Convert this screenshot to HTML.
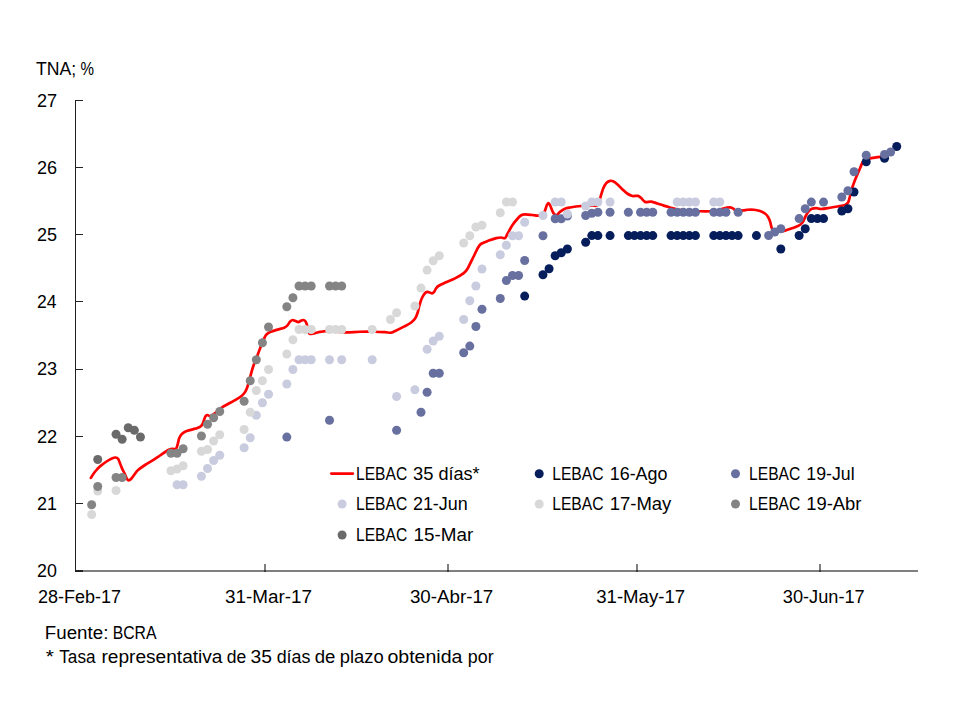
<!DOCTYPE html>
<html lang="es"><head><meta charset="utf-8"><title>LEBAC - TNA; %</title>
<style>
html,body{margin:0;padding:0;background:#fff;}
body{width:960px;height:720px;overflow:hidden;}
svg{display:block;}
text{font-family:"Liberation Sans",sans-serif;font-size:17.5px;fill:#000;}
</style></head><body>
<svg width="960" height="720" viewBox="0 0 960 720">
<rect width="960" height="720" fill="#fff"/>
<g shape-rendering="crispEdges">
<rect x="76" y="570" width="842" height="2" fill="#000" fill-opacity="0.5"/>
<rect x="264" y="564" width="2" height="8" fill="#000" fill-opacity="0.5"/>
<rect x="447" y="564" width="2" height="8" fill="#000" fill-opacity="0.5"/>
<rect x="636" y="564" width="2" height="8" fill="#000" fill-opacity="0.5"/>
<rect x="819" y="564" width="2" height="8" fill="#000" fill-opacity="0.5"/>
<rect x="75" y="100" width="1" height="472" fill="#222"/>
<rect x="75" y="100" width="8" height="1" fill="#222"/>
<rect x="75" y="167" width="8" height="1" fill="#222"/>
<rect x="75" y="234" width="8" height="1" fill="#222"/>
<rect x="75" y="301" width="8" height="1" fill="#222"/>
<rect x="75" y="369" width="8" height="1" fill="#222"/>
<rect x="75" y="436" width="8" height="1" fill="#222"/>
<rect x="75" y="503" width="8" height="1" fill="#222"/>
<rect x="75" y="570" width="8" height="2" fill="#222"/>
</g>
<path d="M90.90 477.80C91.48 476.92 93.30 474.00 94.40 472.50C95.50 471.00 96.47 469.90 97.50 468.80C98.53 467.70 99.03 467.16 100.60 465.90C102.17 464.64 105.02 462.50 106.90 461.25C108.78 460.00 110.45 459.02 111.90 458.40C113.35 457.77 114.57 457.44 115.60 457.50C116.63 457.56 117.42 457.92 118.10 458.75C118.78 459.58 119.07 460.94 119.70 462.50C120.33 464.06 121.02 466.12 121.90 468.10C122.78 470.08 124.17 472.62 125.00 474.40C125.83 476.17 126.28 477.77 126.90 478.75C127.53 479.73 128.03 480.30 128.75 480.30C129.47 480.30 130.21 479.84 131.25 478.75C132.29 477.66 133.86 475.21 135.00 473.75C136.14 472.29 136.43 471.46 138.10 470.00C139.77 468.54 142.18 466.85 145.00 465.00C147.82 463.15 152.50 460.48 155.00 458.90C157.50 457.32 157.78 456.98 160.00 455.50C162.22 454.02 166.22 451.12 168.30 450.00C170.38 448.88 171.25 448.92 172.50 448.75C173.75 448.58 174.97 449.62 175.80 449.00C176.63 448.38 176.93 446.78 177.50 445.00C178.07 443.22 178.50 440.10 179.20 438.30C179.90 436.50 180.73 435.30 181.70 434.20C182.67 433.10 183.33 432.47 185.00 431.70C186.67 430.93 189.62 430.23 191.70 429.60C193.78 428.97 195.98 428.46 197.50 427.90C199.02 427.34 199.90 427.02 200.80 426.25C201.70 425.48 202.27 424.62 202.90 423.30C203.53 421.98 204.12 419.55 204.60 418.30C205.08 417.05 205.32 416.35 205.80 415.80C206.28 415.25 206.90 414.97 207.50 415.00C208.10 415.03 208.65 415.97 209.40 416.00C210.15 416.03 210.90 415.80 212.00 415.20C213.10 414.60 214.38 413.68 216.00 412.40C217.62 411.12 219.23 409.15 221.70 407.50C224.17 405.85 227.75 404.23 230.80 402.50C233.85 400.77 237.80 398.60 240.00 397.10C242.20 395.60 242.87 394.93 244.00 393.50C245.13 392.07 245.88 390.83 246.80 388.50C247.72 386.17 248.47 383.08 249.50 379.50C250.53 375.92 251.60 371.22 253.00 367.00C254.40 362.78 256.67 357.45 257.90 354.20C259.13 350.95 259.63 349.50 260.40 347.50C261.17 345.50 261.80 343.87 262.50 342.20C263.20 340.53 263.90 338.83 264.60 337.50C265.30 336.17 265.67 335.17 266.70 334.20C267.73 333.23 269.00 332.47 270.80 331.70C272.60 330.93 275.27 330.26 277.50 329.60C279.73 328.94 282.53 328.45 284.20 327.75C285.87 327.05 286.53 326.41 287.50 325.40C288.47 324.39 289.17 322.60 290.00 321.70C290.83 320.80 291.67 320.15 292.50 320.00C293.33 319.85 294.03 320.45 295.00 320.80C295.97 321.15 297.33 322.10 298.30 322.10C299.27 322.10 299.97 321.15 300.80 320.80C301.63 320.45 302.53 319.93 303.30 320.00C304.07 320.07 304.83 320.55 305.40 321.25C305.97 321.95 306.27 322.82 306.70 324.20C307.13 325.57 307.58 327.98 308.00 329.50C308.42 331.02 308.58 332.55 309.20 333.30C309.82 334.05 310.73 334.00 311.70 334.00C312.67 334.00 313.62 333.65 315.00 333.30C316.38 332.95 317.50 332.30 320.00 331.90C322.50 331.50 325.83 330.83 330.00 330.90C334.17 330.97 340.00 332.16 345.00 332.30C350.00 332.44 355.00 331.84 360.00 331.75C365.00 331.66 370.83 331.68 375.00 331.75C379.17 331.82 382.37 332.04 385.00 332.20C387.63 332.36 389.18 332.87 390.80 332.70C392.42 332.53 392.43 332.25 394.70 331.20C396.97 330.15 401.65 327.85 404.40 326.40C407.15 324.95 409.42 323.80 411.20 322.50C412.98 321.20 414.03 320.22 415.10 318.60C416.17 316.98 416.95 314.75 417.60 312.80C418.25 310.85 418.37 309.17 419.00 306.90C419.63 304.63 420.50 301.38 421.40 299.20C422.30 297.02 423.42 295.02 424.40 293.80C425.38 292.58 426.42 292.12 427.30 291.90C428.18 291.68 428.90 292.27 429.70 292.50C430.50 292.73 431.37 293.40 432.10 293.30C432.83 293.20 433.45 292.70 434.10 291.90C434.75 291.10 435.28 289.48 436.00 288.50C436.72 287.52 436.85 286.98 438.40 286.00C439.95 285.02 442.53 283.87 445.30 282.60C448.07 281.33 451.93 279.98 455.00 278.40C458.07 276.82 461.67 274.71 463.75 273.10C465.83 271.49 465.83 271.56 467.50 268.75C469.17 265.94 471.98 259.79 473.75 256.25C475.52 252.71 476.85 249.58 478.10 247.50C479.35 245.42 479.48 244.90 481.25 243.75C483.02 242.60 486.25 241.54 488.75 240.60C491.25 239.66 494.17 238.62 496.25 238.10C498.33 237.58 499.79 237.50 501.25 237.50C502.71 237.50 503.96 238.72 505.00 238.10C506.04 237.47 506.25 235.93 507.50 233.75C508.75 231.57 510.83 227.50 512.50 225.00C514.17 222.50 516.04 220.38 517.50 218.75C518.96 217.12 520.00 215.97 521.25 215.25C522.50 214.53 523.12 214.44 525.00 214.40C526.88 214.36 530.32 214.80 532.50 215.00C534.68 215.20 536.43 215.67 538.10 215.60C539.77 215.53 541.35 215.43 542.50 214.60C543.65 213.77 544.27 212.20 545.00 210.60C545.73 209.00 546.33 206.25 546.90 205.00C547.47 203.75 547.88 203.10 548.40 203.10C548.92 203.10 549.32 203.64 550.00 205.00C550.68 206.36 551.77 209.68 552.50 211.25C553.23 212.82 553.67 213.78 554.40 214.40C555.13 215.03 555.97 215.42 556.90 215.00C557.83 214.58 558.65 212.94 560.00 211.90C561.35 210.86 563.33 209.48 565.00 208.75C566.67 208.02 567.29 207.96 570.00 207.50C572.71 207.04 577.60 206.32 581.25 206.00C584.90 205.68 589.29 205.67 591.90 205.60C594.51 205.53 595.75 206.12 596.90 205.60C598.05 205.08 598.28 203.64 598.80 202.50C599.32 201.36 599.28 201.04 600.00 198.75C600.72 196.46 602.06 191.36 603.10 188.75C604.14 186.14 605.10 184.41 606.25 183.10C607.40 181.79 608.86 181.21 610.00 180.90C611.14 180.59 611.85 180.67 613.10 181.25C614.35 181.83 615.93 183.04 617.50 184.40C619.07 185.76 620.83 187.84 622.50 189.40C624.17 190.96 625.83 192.65 627.50 193.75C629.17 194.85 630.73 195.64 632.50 196.00C634.27 196.36 636.64 195.55 638.10 195.90C639.56 196.25 640.10 197.10 641.25 198.10C642.40 199.10 643.33 201.32 645.00 201.90C646.67 202.48 649.17 201.33 651.25 201.60C653.33 201.87 655.42 202.83 657.50 203.50C659.58 204.17 661.67 204.93 663.75 205.60C665.83 206.27 667.71 206.83 670.00 207.50C672.29 208.17 674.17 209.02 677.50 209.60C680.83 210.18 686.25 210.72 690.00 211.00C693.75 211.28 696.67 211.21 700.00 211.25C703.33 211.29 707.33 211.34 710.00 211.25C712.67 211.16 713.92 211.12 716.00 210.70C718.08 210.27 720.67 209.22 722.50 208.70C724.33 208.18 725.72 207.82 727.00 207.60C728.28 207.38 729.20 207.27 730.20 207.40C731.20 207.53 732.23 207.97 733.00 208.40C733.77 208.83 734.05 209.62 734.80 210.00C735.55 210.38 736.08 210.63 737.50 210.70C738.92 210.77 741.63 210.56 743.30 210.40C744.97 210.24 745.76 209.86 747.50 209.75C749.24 209.64 751.67 209.54 753.75 209.75C755.83 209.96 758.12 210.38 760.00 211.00C761.88 211.62 763.65 212.52 765.00 213.50C766.35 214.48 767.27 215.61 768.10 216.90C768.93 218.19 769.48 219.69 770.00 221.25C770.52 222.81 770.88 224.89 771.25 226.25C771.62 227.61 771.79 228.56 772.25 229.40C772.71 230.24 773.04 230.93 774.00 231.30C774.96 231.67 776.17 231.72 778.00 231.60C779.83 231.48 782.58 231.18 785.00 230.60C787.42 230.02 790.21 228.93 792.50 228.10C794.79 227.27 797.08 226.53 798.75 225.60C800.42 224.67 801.36 224.06 802.50 222.50C803.64 220.94 804.56 218.12 805.60 216.25C806.64 214.38 807.70 212.50 808.75 211.25C809.80 210.00 810.65 209.28 811.90 208.75C813.15 208.22 814.69 208.06 816.25 208.10C817.81 208.14 818.96 209.06 821.25 209.00C823.54 208.94 827.29 208.17 830.00 207.75C832.71 207.33 835.00 206.96 837.50 206.50C840.00 206.04 843.23 205.67 845.00 205.00C846.77 204.33 847.27 203.96 848.10 202.50C848.93 201.04 849.37 198.54 850.00 196.25C850.63 193.96 851.07 191.46 851.90 188.75C852.73 186.04 853.86 182.92 855.00 180.00C856.14 177.08 857.50 174.17 858.75 171.25C860.00 168.33 861.46 164.47 862.50 162.50C863.54 160.53 863.54 160.13 865.00 159.40C866.46 158.67 869.17 158.48 871.25 158.10C873.33 157.72 875.83 157.30 877.50 157.10C879.17 156.90 880.10 156.93 881.25 156.90C882.40 156.87 883.88 156.90 884.40 156.90" fill="none" stroke="#ff0000" stroke-width="2.7" stroke-linejoin="round" stroke-linecap="round"/>
<g fill="#061D5C">
<circle cx="524.68" cy="296.10" r="4.5"/>
<circle cx="542.98" cy="274.70" r="4.5"/>
<circle cx="549.08" cy="268.70" r="4.5"/>
<circle cx="555.17" cy="255.70" r="4.5"/>
<circle cx="561.27" cy="252.70" r="4.5"/>
<circle cx="567.37" cy="248.95" r="4.5"/>
<circle cx="585.67" cy="242.20" r="4.5"/>
<circle cx="591.77" cy="235.60" r="4.5"/>
<circle cx="597.87" cy="235.60" r="4.5"/>
<circle cx="610.06" cy="235.60" r="4.5"/>
<circle cx="628.36" cy="235.60" r="4.5"/>
<circle cx="634.46" cy="235.60" r="4.5"/>
<circle cx="640.56" cy="235.60" r="4.5"/>
<circle cx="646.66" cy="235.60" r="4.5"/>
<circle cx="652.76" cy="235.60" r="4.5"/>
<circle cx="671.05" cy="235.60" r="4.5"/>
<circle cx="677.15" cy="235.60" r="4.5"/>
<circle cx="683.25" cy="235.60" r="4.5"/>
<circle cx="689.35" cy="235.60" r="4.5"/>
<circle cx="695.45" cy="235.60" r="4.5"/>
<circle cx="713.75" cy="235.60" r="4.5"/>
<circle cx="719.85" cy="235.60" r="4.5"/>
<circle cx="725.95" cy="235.60" r="4.5"/>
<circle cx="732.04" cy="235.60" r="4.5"/>
<circle cx="738.14" cy="235.60" r="4.5"/>
<circle cx="756.44" cy="235.60" r="4.5"/>
<circle cx="780.84" cy="248.95" r="4.5"/>
<circle cx="799.13" cy="235.50" r="4.5"/>
<circle cx="805.23" cy="228.70" r="4.5"/>
<circle cx="811.33" cy="218.60" r="4.5"/>
<circle cx="817.43" cy="218.60" r="4.5"/>
<circle cx="823.53" cy="218.60" r="4.5"/>
<circle cx="841.83" cy="210.95" r="4.5"/>
<circle cx="847.93" cy="208.70" r="4.5"/>
<circle cx="854.02" cy="191.95" r="4.5"/>
<circle cx="866.22" cy="161.80" r="4.5"/>
<circle cx="884.52" cy="158.30" r="4.5"/>
<circle cx="896.72" cy="146.45" r="4.5"/>
</g>
<g fill="#67709F">
<circle cx="286.82" cy="437.10" r="4.5"/>
<circle cx="329.51" cy="420.20" r="4.5"/>
<circle cx="396.60" cy="430.20" r="4.5"/>
<circle cx="421.00" cy="412.20" r="4.5"/>
<circle cx="427.10" cy="392.20" r="4.5"/>
<circle cx="433.19" cy="373.20" r="4.5"/>
<circle cx="439.29" cy="373.20" r="4.5"/>
<circle cx="463.69" cy="352.80" r="4.5"/>
<circle cx="469.79" cy="346.10" r="4.5"/>
<circle cx="475.89" cy="326.45" r="4.5"/>
<circle cx="481.99" cy="309.20" r="4.5"/>
<circle cx="500.28" cy="298.45" r="4.5"/>
<circle cx="506.38" cy="280.45" r="4.5"/>
<circle cx="512.48" cy="275.45" r="4.5"/>
<circle cx="518.58" cy="275.45" r="4.5"/>
<circle cx="524.68" cy="260.45" r="4.5"/>
<circle cx="542.98" cy="235.70" r="4.5"/>
<circle cx="555.17" cy="218.70" r="4.5"/>
<circle cx="561.27" cy="218.70" r="4.5"/>
<circle cx="567.37" cy="215.95" r="4.5"/>
<circle cx="585.67" cy="215.45" r="4.5"/>
<circle cx="591.77" cy="213.20" r="4.5"/>
<circle cx="597.87" cy="212.20" r="4.5"/>
<circle cx="610.06" cy="212.20" r="4.5"/>
<circle cx="628.36" cy="212.20" r="4.5"/>
<circle cx="640.56" cy="212.20" r="4.5"/>
<circle cx="646.66" cy="212.20" r="4.5"/>
<circle cx="652.76" cy="212.20" r="4.5"/>
<circle cx="671.05" cy="212.20" r="4.5"/>
<circle cx="677.15" cy="212.20" r="4.5"/>
<circle cx="683.25" cy="212.20" r="4.5"/>
<circle cx="689.35" cy="212.20" r="4.5"/>
<circle cx="695.45" cy="212.20" r="4.5"/>
<circle cx="713.75" cy="212.20" r="4.5"/>
<circle cx="719.85" cy="212.20" r="4.5"/>
<circle cx="725.95" cy="212.20" r="4.5"/>
<circle cx="738.14" cy="212.20" r="4.5"/>
<circle cx="768.64" cy="235.45" r="4.5"/>
<circle cx="774.74" cy="231.95" r="4.5"/>
<circle cx="780.84" cy="228.70" r="4.5"/>
<circle cx="799.13" cy="218.60" r="4.5"/>
<circle cx="805.23" cy="208.80" r="4.5"/>
<circle cx="811.33" cy="202.10" r="4.5"/>
<circle cx="823.53" cy="202.10" r="4.5"/>
<circle cx="841.83" cy="196.95" r="4.5"/>
<circle cx="847.93" cy="190.70" r="4.5"/>
<circle cx="854.02" cy="171.70" r="4.5"/>
<circle cx="866.22" cy="155.20" r="4.5"/>
<circle cx="884.52" cy="154.40" r="4.5"/>
<circle cx="890.62" cy="151.95" r="4.5"/>
</g>
<g fill="#C9CBDF">
<circle cx="177.04" cy="484.70" r="4.5"/>
<circle cx="183.13" cy="484.70" r="4.5"/>
<circle cx="201.43" cy="476.20" r="4.5"/>
<circle cx="207.53" cy="468.45" r="4.5"/>
<circle cx="213.63" cy="460.45" r="4.5"/>
<circle cx="219.73" cy="455.20" r="4.5"/>
<circle cx="244.12" cy="447.70" r="4.5"/>
<circle cx="250.22" cy="437.70" r="4.5"/>
<circle cx="256.32" cy="415.20" r="4.5"/>
<circle cx="262.42" cy="402.70" r="4.5"/>
<circle cx="268.52" cy="394.20" r="4.5"/>
<circle cx="286.82" cy="383.95" r="4.5"/>
<circle cx="292.92" cy="369.45" r="4.5"/>
<circle cx="299.02" cy="359.70" r="4.5"/>
<circle cx="305.12" cy="359.70" r="4.5"/>
<circle cx="311.21" cy="359.70" r="4.5"/>
<circle cx="329.51" cy="359.70" r="4.5"/>
<circle cx="341.71" cy="359.70" r="4.5"/>
<circle cx="372.20" cy="359.70" r="4.5"/>
<circle cx="396.60" cy="396.45" r="4.5"/>
<circle cx="414.90" cy="389.70" r="4.5"/>
<circle cx="427.10" cy="349.20" r="4.5"/>
<circle cx="433.19" cy="340.95" r="4.5"/>
<circle cx="439.29" cy="336.30" r="4.5"/>
<circle cx="463.69" cy="319.45" r="4.5"/>
<circle cx="469.79" cy="300.70" r="4.5"/>
<circle cx="475.89" cy="285.95" r="4.5"/>
<circle cx="481.99" cy="268.95" r="4.5"/>
<circle cx="500.28" cy="254.70" r="4.5"/>
<circle cx="506.38" cy="245.20" r="4.5"/>
<circle cx="512.48" cy="235.70" r="4.5"/>
<circle cx="518.58" cy="235.70" r="4.5"/>
<circle cx="524.68" cy="222.20" r="4.5"/>
<circle cx="542.98" cy="215.45" r="4.5"/>
<circle cx="555.17" cy="201.95" r="4.5"/>
<circle cx="561.27" cy="201.95" r="4.5"/>
<circle cx="567.37" cy="213.95" r="4.5"/>
<circle cx="585.67" cy="205.95" r="4.5"/>
<circle cx="591.77" cy="201.95" r="4.5"/>
<circle cx="597.87" cy="201.95" r="4.5"/>
<circle cx="610.06" cy="201.95" r="4.5"/>
<circle cx="677.15" cy="201.95" r="4.5"/>
<circle cx="683.25" cy="201.95" r="4.5"/>
<circle cx="689.35" cy="201.95" r="4.5"/>
<circle cx="695.45" cy="201.95" r="4.5"/>
<circle cx="713.75" cy="201.95" r="4.5"/>
<circle cx="719.85" cy="201.95" r="4.5"/>
</g>
<g fill="#D8D8D8">
<circle cx="91.65" cy="514.45" r="4.5"/>
<circle cx="97.75" cy="490.95" r="4.5"/>
<circle cx="116.05" cy="490.45" r="4.5"/>
<circle cx="170.94" cy="470.70" r="4.5"/>
<circle cx="177.04" cy="468.95" r="4.5"/>
<circle cx="183.13" cy="465.70" r="4.5"/>
<circle cx="201.43" cy="451.20" r="4.5"/>
<circle cx="207.53" cy="449.45" r="4.5"/>
<circle cx="213.63" cy="440.95" r="4.5"/>
<circle cx="219.73" cy="434.70" r="4.5"/>
<circle cx="244.12" cy="429.45" r="4.5"/>
<circle cx="250.22" cy="412.20" r="4.5"/>
<circle cx="256.32" cy="390.45" r="4.5"/>
<circle cx="262.42" cy="380.70" r="4.5"/>
<circle cx="268.52" cy="369.45" r="4.5"/>
<circle cx="286.82" cy="353.95" r="4.5"/>
<circle cx="292.92" cy="339.70" r="4.5"/>
<circle cx="299.02" cy="329.45" r="4.5"/>
<circle cx="305.12" cy="329.45" r="4.5"/>
<circle cx="311.21" cy="329.45" r="4.5"/>
<circle cx="329.51" cy="329.45" r="4.5"/>
<circle cx="335.61" cy="329.45" r="4.5"/>
<circle cx="341.71" cy="329.45" r="4.5"/>
<circle cx="372.20" cy="329.45" r="4.5"/>
<circle cx="390.50" cy="319.45" r="4.5"/>
<circle cx="396.60" cy="312.80" r="4.5"/>
<circle cx="414.90" cy="305.95" r="4.5"/>
<circle cx="421.00" cy="288.10" r="4.5"/>
<circle cx="427.10" cy="270.10" r="4.5"/>
<circle cx="433.19" cy="260.70" r="4.5"/>
<circle cx="439.29" cy="255.70" r="4.5"/>
<circle cx="463.69" cy="242.95" r="4.5"/>
<circle cx="469.79" cy="235.70" r="4.5"/>
<circle cx="475.89" cy="226.95" r="4.5"/>
<circle cx="481.99" cy="225.20" r="4.5"/>
<circle cx="500.28" cy="212.70" r="4.5"/>
<circle cx="506.38" cy="201.95" r="4.5"/>
<circle cx="512.48" cy="201.95" r="4.5"/>
</g>
<g fill="#848484">
<circle cx="91.65" cy="504.70" r="4.5"/>
<circle cx="97.75" cy="486.45" r="4.5"/>
<circle cx="116.05" cy="477.45" r="4.5"/>
<circle cx="122.15" cy="477.45" r="4.5"/>
<circle cx="170.94" cy="453.20" r="4.5"/>
<circle cx="177.04" cy="453.20" r="4.5"/>
<circle cx="183.13" cy="448.70" r="4.5"/>
<circle cx="201.43" cy="435.95" r="4.5"/>
<circle cx="207.53" cy="424.20" r="4.5"/>
<circle cx="213.63" cy="417.70" r="4.5"/>
<circle cx="219.73" cy="411.45" r="4.5"/>
<circle cx="244.12" cy="401.20" r="4.5"/>
<circle cx="250.22" cy="380.70" r="4.5"/>
<circle cx="256.32" cy="359.70" r="4.5"/>
<circle cx="262.42" cy="342.70" r="4.5"/>
<circle cx="268.52" cy="326.95" r="4.5"/>
<circle cx="286.82" cy="306.70" r="4.5"/>
<circle cx="292.92" cy="297.70" r="4.5"/>
<circle cx="299.02" cy="285.95" r="4.5"/>
<circle cx="305.12" cy="285.95" r="4.5"/>
<circle cx="311.21" cy="285.95" r="4.5"/>
<circle cx="329.51" cy="285.95" r="4.5"/>
<circle cx="335.61" cy="285.95" r="4.5"/>
<circle cx="341.71" cy="285.95" r="4.5"/>
</g>
<g fill="#6A6A6A">
<circle cx="97.75" cy="459.45" r="4.5"/>
<circle cx="116.05" cy="434.20" r="4.5"/>
<circle cx="122.15" cy="439.20" r="4.5"/>
<circle cx="128.24" cy="427.70" r="4.5"/>
<circle cx="134.34" cy="430.20" r="4.5"/>
<circle cx="140.44" cy="436.95" r="4.5"/>
</g>
<line x1="331.3" y1="473.6" x2="352.8" y2="473.6" stroke="#ff0000" stroke-width="2.7" stroke-linecap="round"/>
<circle cx="539.2" cy="473.75" r="4.5" fill="#061D5C"/>
<circle cx="735.5" cy="473.75" r="4.5" fill="#67709F"/>
<circle cx="342.1" cy="504.0" r="4.5" fill="#C9CBDF"/>
<circle cx="539.2" cy="504.0" r="4.5" fill="#D8D8D8"/>
<circle cx="735.5" cy="504.0" r="4.5" fill="#848484"/>
<circle cx="342.1" cy="535.0" r="4.5" fill="#6A6A6A"/>
<text y="74.75"><tspan x="36.10" textLength="40.16" lengthAdjust="spacingAndGlyphs">TNA;</tspan> <tspan x="80.56" textLength="13.50" lengthAdjust="spacingAndGlyphs">%</tspan></text>
<text y="602.50"><tspan x="37.93" textLength="82.99" lengthAdjust="spacingAndGlyphs">28-Feb-17</tspan></text>
<text y="602.50"><tspan x="224.91" textLength="87.15" lengthAdjust="spacingAndGlyphs">31-Mar-17</tspan></text>
<text y="602.50"><tspan x="409.91" textLength="83.34" lengthAdjust="spacingAndGlyphs">30-Abr-17</tspan></text>
<text y="602.50"><tspan x="596.19" textLength="88.96" lengthAdjust="spacingAndGlyphs">31-May-17</tspan></text>
<text y="602.50"><tspan x="782.86" textLength="81.81" lengthAdjust="spacingAndGlyphs">30-Jun-17</tspan></text>
<text y="638.75"><tspan x="44.86" textLength="63.49" lengthAdjust="spacingAndGlyphs">Fuente:</tspan> <tspan x="112.66" textLength="43.76" lengthAdjust="spacingAndGlyphs">BCRA</tspan></text>
<text y="662.50"><tspan x="45.65" textLength="8.14" lengthAdjust="spacingAndGlyphs">*</tspan> <tspan x="59.28" textLength="36.23" lengthAdjust="spacingAndGlyphs">Tasa</tspan> <tspan x="101.43" textLength="121.07" lengthAdjust="spacingAndGlyphs">representativa</tspan> <tspan x="226.85" textLength="19.50" lengthAdjust="spacingAndGlyphs">de</tspan> <tspan x="250.64" textLength="21.38" lengthAdjust="spacingAndGlyphs">35</tspan> <tspan x="276.65" textLength="33.80" lengthAdjust="spacingAndGlyphs">días</tspan> <tspan x="314.72" textLength="20.68" lengthAdjust="spacingAndGlyphs">de</tspan> <tspan x="339.78" textLength="43.88" lengthAdjust="spacingAndGlyphs">plazo</tspan> <tspan x="387.44" textLength="74.94" lengthAdjust="spacingAndGlyphs">obtenida</tspan> <tspan x="467.83" textLength="25.77" lengthAdjust="spacingAndGlyphs">por</tspan></text>
<text y="479.80"><tspan x="356.06" textLength="51.12" lengthAdjust="spacingAndGlyphs">LEBAC</tspan> <tspan x="412.97" textLength="20.39" lengthAdjust="spacingAndGlyphs">35</tspan> <tspan x="438.40" textLength="41.26" lengthAdjust="spacingAndGlyphs">días*</tspan></text>
<text y="479.80"><tspan x="552.20" textLength="51.44" lengthAdjust="spacingAndGlyphs">LEBAC</tspan> <tspan x="609.74" textLength="57.76" lengthAdjust="spacingAndGlyphs">16-Ago</tspan></text>
<text y="479.80"><tspan x="749.03" textLength="51.25" lengthAdjust="spacingAndGlyphs">LEBAC</tspan> <tspan x="806.34" textLength="48.24" lengthAdjust="spacingAndGlyphs">19-Jul</tspan></text>
<text y="509.90"><tspan x="356.06" textLength="51.12" lengthAdjust="spacingAndGlyphs">LEBAC</tspan> <tspan x="412.92" textLength="54.88" lengthAdjust="spacingAndGlyphs">21-Jun</tspan></text>
<text y="509.90"><tspan x="552.20" textLength="51.44" lengthAdjust="spacingAndGlyphs">LEBAC</tspan> <tspan x="609.69" textLength="61.69" lengthAdjust="spacingAndGlyphs">17-May</tspan></text>
<text y="509.90"><tspan x="749.03" textLength="51.25" lengthAdjust="spacingAndGlyphs">LEBAC</tspan> <tspan x="806.34" textLength="55.13" lengthAdjust="spacingAndGlyphs">19-Abr</tspan></text>
<text y="540.60"><tspan x="356.06" textLength="51.12" lengthAdjust="spacingAndGlyphs">LEBAC</tspan> <tspan x="413.47" textLength="59.77" lengthAdjust="spacingAndGlyphs">15-Mar</tspan></text>
<text y="577.00"><tspan x="37.05" textLength="19.85" lengthAdjust="spacingAndGlyphs">20</tspan></text>
<text y="509.79"><tspan x="37.03" textLength="19.90" lengthAdjust="spacingAndGlyphs">21</tspan></text>
<text y="442.58"><tspan x="36.97" textLength="20.31" lengthAdjust="spacingAndGlyphs">22</tspan></text>
<text y="375.37"><tspan x="36.99" textLength="20.23" lengthAdjust="spacingAndGlyphs">23</tspan></text>
<text y="308.16"><tspan x="37.08" textLength="19.52" lengthAdjust="spacingAndGlyphs">24</tspan></text>
<text y="240.95"><tspan x="37.00" textLength="20.04" lengthAdjust="spacingAndGlyphs">25</tspan></text>
<text y="173.74"><tspan x="37.00" textLength="20.09" lengthAdjust="spacingAndGlyphs">26</tspan></text>
<text y="106.53"><tspan x="37.00" textLength="20.11" lengthAdjust="spacingAndGlyphs">27</tspan></text>
</svg></body></html>
